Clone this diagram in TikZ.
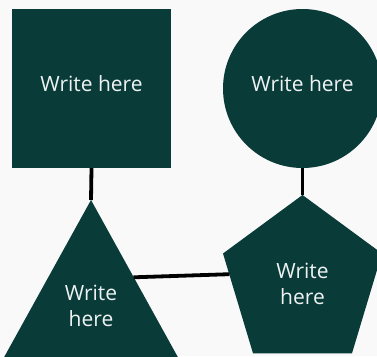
\documentclass[tikz,border=0pt]{standalone}
\usepackage{fontspec}
\setmainfont{Open Sans}
\definecolor{shapefill}{HTML}{093B39}
\definecolor{bgcol}{HTML}{F9F9F9}
\definecolor{txtcol}{HTML}{EEF3F2}
\begin{document}
\begin{tikzpicture}[x=1pt,y=-1pt,
  conn/.style={line width=3.8pt,black},
  shp/.style={fill=shapefill,draw=none,inner sep=0pt},
  lbl/.style={text=txtcol,font=\fontsize{21}{26}\selectfont,align=center,inner sep=0pt}]
\useasboundingbox (0,0) rectangle (377,356);
\fill[bgcol] (0,0) rectangle (377,356);
\begin{scope}
\clip (0,0) rectangle (377,356);
% shapes
\node[shp,rectangle,minimum width=159pt,minimum height=159pt] (sq) at (91.5,88.5) {};
\node[shp,circle,minimum size=159pt] (ci) at (302.5,88.5) {};
\coordinate (tA) at (91,200);
\coordinate (tL) at (-3,370);
\coordinate (tR) at (185,370);
\fill[shapefill] (tA) -- (tR) -- (tL) -- cycle;
\coordinate (pT) at (302.5,195);
\coordinate (pUL) at (223,253.5);
\coordinate (pLL) at (253,353.3);
\coordinate (pLR) at (352,353.3);
\coordinate (pUR) at (382,253.5);
\fill[shapefill] (pT) -- (pUR) -- (pLR) -- (pLL) -- (pUL) -- cycle;
% connectors
\coordinate (tE) at (133.5,277.3);
\coordinate (pE) at (229.3,274.2);
\draw[conn] (sq.south) -- (tA);
\draw[conn] (ci.south) -- (pT);
\draw[conn] (tE) -- (pE);
% labels
\node[lbl,anchor=base] (sqt) at (91.5,91) {Write here};
\node[lbl,anchor=base] (cit) at (302.5,91) {Write here};
\node[lbl] (trt) at (91,306) {Write\\here};
\node[lbl] (pet) at (302.5,284) {Write\\here};
\end{scope}
\end{tikzpicture}
\end{document}
